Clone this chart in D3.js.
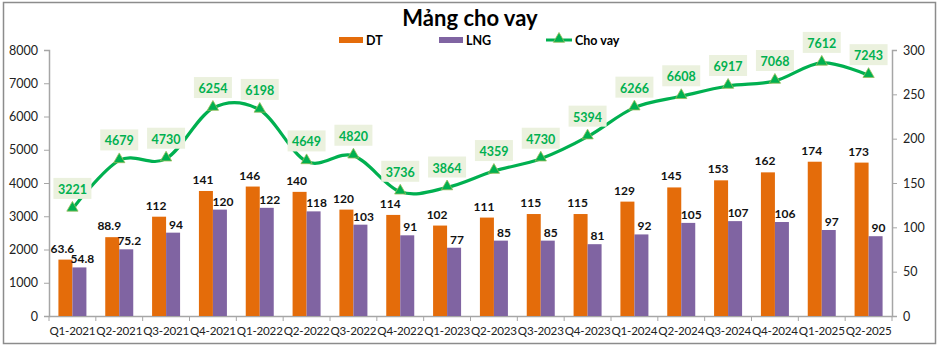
<!DOCTYPE html>
<html><head><meta charset="utf-8">
<script src="https://cdn.jsdelivr.net/npm/d3@7/dist/d3.min.js"></script>
<style>body{margin:0;background:#fff}svg{display:block}text{font-family:Lato,"Open Sans",sans-serif}</style>
</head><body><svg id="c" width="940" height="348"></svg>
<script>
const categories = ["Q1-2021","Q2-2021","Q3-2021","Q4-2021","Q1-2022","Q2-2022","Q3-2022","Q4-2022","Q1-2023","Q2-2023","Q3-2023","Q4-2023","Q1-2024","Q2-2024","Q3-2024","Q4-2024","Q1-2025","Q2-2025"];
const dt = [63.6,88.9,112,141,146,140,120,114,102,111,115,115,129,145,153,162,174,173];
const lng = [54.8,75.2,94,120,122,118,103,91,77,85,85,81,92,105,107,106,97,90];
const choVay = [3221,4679,4730,6254,6198,4649,4820,3736,3864,4359,4730,5394,6266,6608,6917,7068,7612,7243];
const leftTicks = [0,1000,2000,3000,4000,5000,6000,7000,8000];
const rightTicks = [0,50,100,150,200,250,300];
const labelFmt = v => String(v);

const svg = d3.select("#c");
const L = 49, R = 892, T = 50, B = 316;
const cOrange = "#E46C0A", cPurple = "#8064A2", cGreen = "#00B050";

svg.append("rect").attr("x",3.5).attr("y",2.5).attr("width",932).attr("height",341)
  .attr("fill","#fff").attr("stroke","#8c8c8c").attr("stroke-width",1.5);

const x = d3.scaleBand().domain(categories).range([L,R]);
const yL = d3.scaleLinear().domain([0,8000]).range([B,T]);
const yR = d3.scaleLinear().domain([0,300]).range([B,T]);

// axes
const axisColor = "#a6a6a6";
const gl = svg.append("g").attr("transform",`translate(${L},0)`)
  .call(d3.axisLeft(yL).tickValues(leftTicks).tickFormat(d3.format("d")).tickSize(5).tickPadding(6));
const gr = svg.append("g").attr("transform",`translate(${R},0)`)
  .call(d3.axisRight(yR).tickValues(rightTicks).tickFormat(d3.format("d")).tickSize(5).tickPadding(6));
[gl,gr].forEach(g=>{
  g.select(".domain").attr("stroke",axisColor).attr("stroke-width",1.5);
  g.selectAll(".tick line").attr("stroke",axisColor);
  g.selectAll("text").attr("font-size",12.5).attr("fill","#222");
});
const gx = svg.append("g").attr("transform",`translate(0,${B})`)
  .call(d3.axisBottom(x).tickSize(0).tickPadding(11));
gx.select(".domain").attr("stroke",axisColor).attr("stroke-width",1.5);
gx.selectAll("text").attr("font-size",11.6).attr("letter-spacing","-0.2").attr("fill","#222");
// category separator ticks
svg.append("g").selectAll("line").data(d3.range(categories.length+1)).join("line")
  .attr("x1",i=>L+i*x.step()).attr("x2",i=>L+i*x.step())
  .attr("y1",B).attr("y2",B+5).attr("stroke",axisColor).attr("stroke-width",1);

// bars
const bw = 14;
const bars = svg.append("g");
categories.forEach((c,i)=>{
  const cx = x(c)+x.bandwidth()/2;
  bars.append("rect").attr("x",cx-bw).attr("width",bw)
    .attr("y",yR(dt[i])).attr("height",B-yR(dt[i])).attr("fill",cOrange);
  bars.append("rect").attr("x",cx).attr("width",bw)
    .attr("y",yR(lng[i])).attr("height",B-yR(lng[i])).attr("fill",cPurple);
  bars.append("text").attr("x",cx-bw/2-3).attr("y",yR(dt[i])-7)
    .attr("text-anchor","middle").attr("font-size",12).attr("font-weight","bold")
    .attr("fill","#111").text(labelFmt(dt[i]));
  bars.append("text").attr("x",cx+bw/2+3).attr("y",yR(lng[i])-4)
    .attr("text-anchor","middle").attr("font-size",12).attr("font-weight","bold")
    .attr("fill","#111").text(labelFmt(lng[i]));
});

// line
const pts = categories.map((c,i)=>[x(c)+x.bandwidth()/2, yL(choVay[i])]);
svg.append("path").attr("d",d3.line().curve(d3.curveCardinal.tension(0))(pts))
  .attr("fill","none").attr("stroke",cGreen).attr("stroke-width",3.2);
const tri = d3.symbol().type(d3.symbolTriangle).size(55);
svg.append("g").selectAll("path").data(pts).join("path")
  .attr("d",tri).attr("transform",d=>`translate(${d[0]},${d[1]-1})`)
  .attr("fill",cGreen).attr("stroke","#9BBB59").attr("stroke-width",0.8);
const lab = svg.append("g");
pts.forEach((p,i)=>{
  const g = lab.append("g").attr("transform",`translate(${p[0]},${p[1]-20})`);
  g.append("rect").attr("x",-19).attr("y",-11).attr("width",38).attr("height",21).attr("fill","#EBF1DE");
  g.append("text").attr("text-anchor","middle").attr("y",5).attr("font-size",12.5)
    .attr("font-weight","bold").attr("fill",cGreen).text(choVay[i]);
});

// title
svg.append("text").attr("x",470).attr("y",26).attr("text-anchor","middle")
  .attr("font-size",22).attr("font-weight","bold").attr("fill","#000").text("Mảng cho vay");

// legend
const lg = svg.append("g").attr("font-size",12.5).attr("font-weight","bold");
lg.append("rect").attr("x",339).attr("y",37).attr("width",24).attr("height",6).attr("fill",cOrange);
lg.append("text").attr("x",366).attr("y",45).text("DT");
lg.append("rect").attr("x",439).attr("y",37).attr("width",24).attr("height",6).attr("fill",cPurple);
lg.append("text").attr("x",466).attr("y",45).text("LNG");
lg.append("line").attr("x1",546).attr("x2",572).attr("y1",40).attr("y2",40).attr("stroke",cGreen).attr("stroke-width",3);
lg.append("path").attr("d",tri).attr("transform","translate(559,39)").attr("fill",cGreen).attr("stroke","#9BBB59").attr("stroke-width",0.8);
lg.append("text").attr("x",575).attr("y",45).text("Cho vay");
</script></body></html>
